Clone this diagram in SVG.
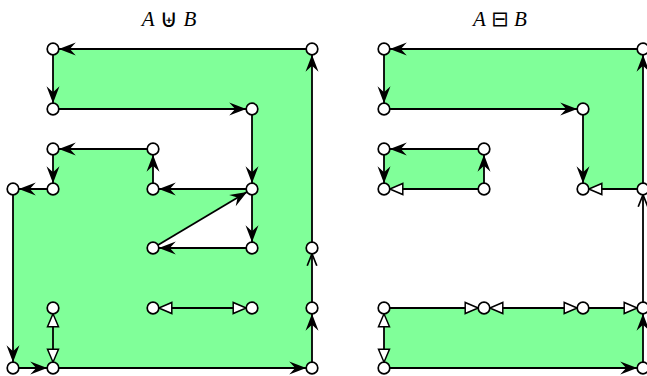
<svg xmlns="http://www.w3.org/2000/svg" width="647" height="376" viewBox="0 0 647 376">
<style>
.fill{fill:#80FF99;fill-rule:evenodd;stroke:none}
.e{fill:none;stroke:#000;stroke-width:1.8}
.st{marker-end:url(#st)}
.tr{marker-end:url(#tri)}
.tb{marker-start:url(#tri);marker-end:url(#tri)}
.op{marker-end:url(#op)}
.n circle{fill:#fff;stroke:#000;stroke-width:1.7}
</style>
<defs>
<marker id="st" markerUnits="userSpaceOnUse" orient="auto" viewBox="-20 -9 28 18" markerWidth="28" markerHeight="18" refX="5.8" refY="0">
<path d="M0,0 L-17,-6.5 L-11,0 L-17,6.5 Z" fill="#000"/>
</marker>
<marker id="tri" markerUnits="userSpaceOnUse" orient="auto-start-reverse" viewBox="-16 -8 24 16" markerWidth="24" markerHeight="16" refX="5.8" refY="0">
<path d="M0,0 L-13,-5.5 L-13,5.5 Z" fill="#fff" stroke="#000" stroke-width="1.5" stroke-linejoin="miter"/>
</marker>
<marker id="op" markerUnits="userSpaceOnUse" orient="auto" viewBox="-16 -8 24 16" markerWidth="24" markerHeight="16" refX="5.8" refY="0">
<path d="M-12,-4.8 L0,0 L-12,4.8" fill="none" stroke="#000" stroke-width="1.7"/>
</marker>
</defs>

<g id="titles" font-family="'Liberation Serif', serif" font-size="21">
<text x="169" y="26" text-anchor="middle"><tspan font-style="italic">A</tspan> <tspan font-family="'DejaVu Sans', sans-serif" font-size="25" dy="1">⊎</tspan> <tspan font-style="italic" dy="-1">B</tspan></text>
<text x="500" y="26" text-anchor="middle"><tspan font-style="italic">A</tspan> <tspan font-family="'DejaVu Sans', sans-serif" font-size="21">⊟</tspan> <tspan font-style="italic">B</tspan></text>
</g>

<g id="regions">
<path class="fill" d="M53,49 H312 V368 H13 V189 H53 V149 H153 V189 H252 V109 H53 Z M153,248 L252,189 V248 Z"/>
<path class="fill" d="M384,49 H643 V189 H583 V109 H384 Z M384,149 H484 V189 H384 Z M384,308 H643 V368 H384 Z"/>
</g>

<g id="connectors">
<path class="e st" d="M312,49 L53,49"/>
<path class="e st" d="M53,49 L53,109"/>
<path class="e st" d="M53,109 L252,109"/>
<path class="e st" d="M252,109 L252,189"/>
<path class="e st" d="M252,189 L153,189"/>
<path class="e st" d="M153,189 L153,149"/>
<path class="e st" d="M153,149 L53,149"/>
<path class="e st" d="M53,149 L53,189"/>
<path class="e st" d="M53,189 L13,189"/>
<path class="e st" d="M13,189 L13,368"/>
<path class="e st" d="M13,368 L53,368"/>
<path class="e st" d="M53,368 L312,368"/>
<path class="e st" d="M312,368 L312,308"/>
<path class="e op" d="M312,308 L312,248"/>
<path class="e st" d="M312,248 L312,49"/>
<path class="e st" d="M153,248 L252,189"/>
<path class="e st" d="M252,189 L252,248"/>
<path class="e st" d="M252,248 L153,248"/>
<path class="e tb" d="M153,308 L252,308"/>
<path class="e tb" d="M53,308 L53,368"/>

<path class="e st" d="M643,49 L384,49"/>
<path class="e st" d="M384,49 L384,109"/>
<path class="e st" d="M384,109 L583,109"/>
<path class="e st" d="M583,109 L583,189"/>
<path class="e tr" d="M643,189 L583,189"/>
<path class="e st" d="M643,189 L643,49"/>
<path class="e op" d="M643,308 L643,189"/>
<path class="e st" d="M484,149 L384,149"/>
<path class="e st" d="M384,149 L384,189"/>
<path class="e st" d="M484,189 L484,149"/>
<path class="e tr" d="M484,189 L384,189"/>
<path class="e tr" d="M384,308 L484,308"/>
<path class="e tb" d="M484,308 L583,308"/>
<path class="e tr" d="M583,308 L643,308"/>
<path class="e tb" d="M384,308 L384,368"/>
<path class="e st" d="M384,368 L643,368"/>
<path class="e st" d="M643,368 L643,308"/>
</g>

<g id="nodes" class="n">
<g id="a1"><circle cx="53" cy="49" r="5.8"/></g>
<g id="a2"><circle cx="312" cy="49" r="5.8"/></g>
<g id="a3"><circle cx="53" cy="109" r="5.8"/></g>
<g id="a4"><circle cx="252" cy="109" r="5.8"/></g>
<g id="a5"><circle cx="53" cy="149" r="5.8"/></g>
<g id="a6"><circle cx="153" cy="149" r="5.8"/></g>
<g id="a7"><circle cx="13" cy="189" r="5.8"/></g>
<g id="a8"><circle cx="53" cy="189" r="5.8"/></g>
<g id="a9"><circle cx="153" cy="189" r="5.8"/></g>
<g id="a10"><circle cx="252" cy="189" r="5.8"/></g>
<g id="a11"><circle cx="153" cy="248" r="5.8"/></g>
<g id="a12"><circle cx="252" cy="248" r="5.8"/></g>
<g id="a13"><circle cx="312" cy="248" r="5.8"/></g>
<g id="a14"><circle cx="53" cy="308" r="5.8"/></g>
<g id="a15"><circle cx="153" cy="308" r="5.8"/></g>
<g id="a16"><circle cx="252" cy="308" r="5.8"/></g>
<g id="a17"><circle cx="312" cy="308" r="5.8"/></g>
<g id="a18"><circle cx="13" cy="368" r="5.8"/></g>
<g id="a19"><circle cx="53" cy="368" r="5.8"/></g>
<g id="a20"><circle cx="312" cy="368" r="5.8"/></g>

<g id="b1"><circle cx="384" cy="49" r="5.8"/></g>
<g id="b2"><circle cx="643" cy="49" r="5.8"/></g>
<g id="b3"><circle cx="384" cy="109" r="5.8"/></g>
<g id="b4"><circle cx="583" cy="109" r="5.8"/></g>
<g id="b5"><circle cx="384" cy="149" r="5.8"/></g>
<g id="b6"><circle cx="484" cy="149" r="5.8"/></g>
<g id="b7"><circle cx="384" cy="189" r="5.8"/></g>
<g id="b8"><circle cx="484" cy="189" r="5.8"/></g>
<g id="b9"><circle cx="583" cy="189" r="5.8"/></g>
<g id="b10"><circle cx="643" cy="189" r="5.8"/></g>
<g id="b11"><circle cx="384" cy="308" r="5.8"/></g>
<g id="b12"><circle cx="484" cy="308" r="5.8"/></g>
<g id="b13"><circle cx="583" cy="308" r="5.8"/></g>
<g id="b14"><circle cx="643" cy="308" r="5.8"/></g>
<g id="b15"><circle cx="384" cy="368" r="5.8"/></g>
<g id="b16"><circle cx="643" cy="368" r="5.8"/></g>
</g>
</svg>
